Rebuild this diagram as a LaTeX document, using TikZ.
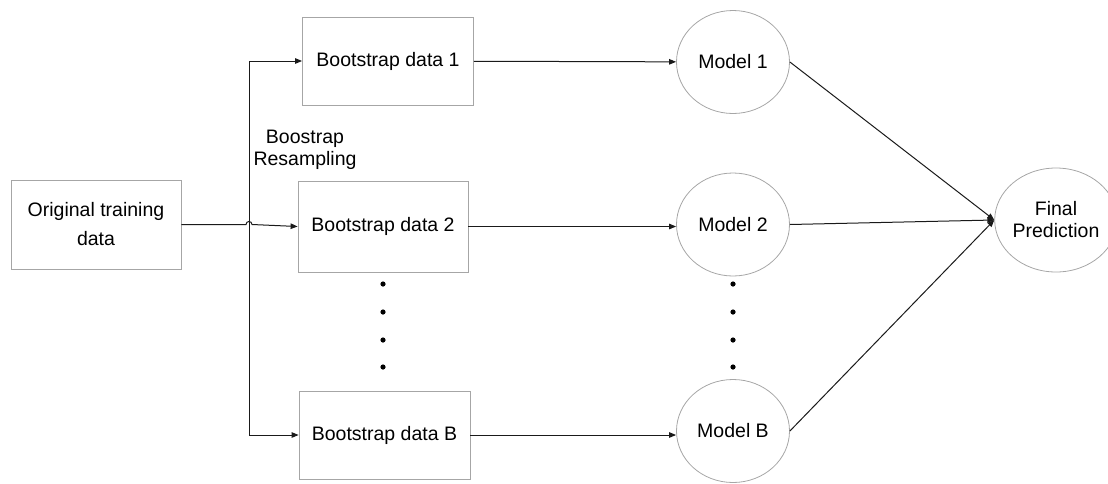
\documentclass[tikz,border=0pt]{standalone}
\usepackage{fontspec}
\setmainfont{Liberation Sans}
\usetikzlibrary{arrows.meta,shapes.geometric}
\definecolor{edgegray}{HTML}{A6A6A6}
\definecolor{linedark}{HTML}{1A1A1A}
\tikzset{
  databox/.style={draw=edgegray, line width=0.8pt, inner sep=0pt, align=center,
    font=\fontsize{19.5}{29}\selectfont},
  modelnode/.style={ellipse, draw=edgegray, line width=0.8pt, inner sep=0pt,
    minimum width=113pt, minimum height=103pt, align=center,
    font=\fontsize{19.5}{22}\selectfont},
  flow/.style={draw=linedark, line width=1pt, -{Triangle[length=7pt,width=5.5pt]}},
  bothflow/.style={draw=linedark, line width=1pt,
    {Triangle[length=7pt,width=5.5pt]}-{Triangle[length=7pt,width=5.5pt]}},
  dot/.style={fill=black}
}
\begin{document}
\begin{tikzpicture}[x=1pt,y=-1pt]
\useasboundingbox (0,0) rectangle (1108,483);

% input data and bootstrap samples
\node[databox, minimum width=170pt, minimum height=89pt] (orig) at (96,224.5) {Original training\\data};
\node[databox, minimum width=171pt, minimum height=88pt] (bs1) at (388,61) {Bootstrap data 1};
\node[databox, minimum width=170pt, minimum height=91pt] (bs2) at (383,226.5) {Bootstrap data 2};
\node[databox, minimum width=171pt, minimum height=88pt] (bsB) at (384.5,435) {Bootstrap data B};

% models and aggregation
\node[modelnode] (m1) at (733,62) {Model 1};
\node[modelnode] (m2) at (733,224.5) {Model 2};
\node[modelnode] (mB) at (733,431) {Model B};
\node[modelnode, minimum width=114pt, minimum height=104pt] (fin) at (1056,220) {Final\\Prediction};

\node[align=center, font=\fontsize{19.5}{22}\selectfont, inner sep=0pt] (lbl) at (305,150) {Boostrap\\Resampling};

% resampling bracket
\coordinate (jx) at (249,0);
\draw[bothflow] (bs1.west) -- (bs1.west -| jx) -- (bsB.west -| jx) -- (bsB.west);

% main line, hopping over the bracket
\coordinate (hopL) at (246,224.5);
\coordinate (hopR) at (252,224.5);
\draw[flow] (orig.east) -- (hopL) .. controls (246,220.5) and (252,220.5) .. (hopR) -- (bs2.west);

% bootstrap samples to models
\draw[flow] (bs1) -- (m1);
\draw[flow] (bs2.east) -- (m2.west |- bs2.east);
\draw[flow] (bsB.east) -- (mB.west |- bsB.east);

% models to final prediction
\draw[flow] (m1.east) -- (fin.west);
\draw[flow] (m2.east) -- (fin.west);
\draw[flow] (mB.east) -- (fin.west);

% ellipsis dots
\foreach \yy in {284,312,340,367} {
  \fill[dot] (383,\yy) circle (2.6pt);
  \fill[dot] (733,\yy) circle (2.6pt);
}
\end{tikzpicture}
\end{document}
